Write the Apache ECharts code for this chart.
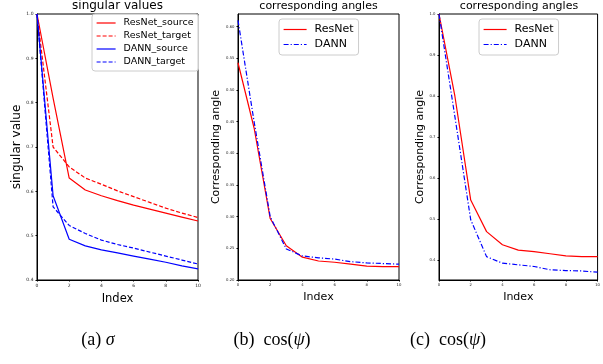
<!DOCTYPE html>
<html>
<head>
<meta charset="utf-8">
<script src="https://cdn.jsdelivr.net/npm/echarts@6/dist/echarts.min.js"></script>
<style>
  html, body { margin: 0; padding: 0; background: #fff; }
  #chart { width: 603px; height: 364px; }
</style>
</head>
<body>
<div id="chart"></div>
<script>
// index on the x axis (shared by all three panels)
const indices = [0, 1, 2, 3, 4, 5, 6, 7, 8, 9, 10]

// (a) singular values
const resnetSource = [1.0, 0.81, 0.63, 0.603, 0.59, 0.579, 0.569, 0.56, 0.551, 0.542, 0.533]
const resnetTarget = [1.0, 0.70, 0.655, 0.63, 0.616, 0.601, 0.588, 0.575, 0.562, 0.551, 0.541]
const dannSource = [1.0, 0.59, 0.492, 0.477, 0.468, 0.461, 0.454, 0.447, 0.44, 0.432, 0.425]
const dannTarget = [1.0, 0.565, 0.523, 0.505, 0.49, 0.48, 0.472, 0.463, 0.454, 0.445, 0.436]

// (b) corresponding angles
const angleResnetB = [0.543, 0.44, 0.297, 0.254, 0.236, 0.230, 0.228, 0.225, 0.222, 0.221, 0.221]
const angleDannB = [0.61, 0.45, 0.30, 0.249, 0.238, 0.235, 0.233, 0.229, 0.227, 0.226, 0.225]

// (c) corresponding angles
const angleResnetC = [1.0, 0.80, 0.546, 0.469, 0.437, 0.424, 0.420, 0.415, 0.41, 0.408, 0.408]
const angleDannC = [1.0, 0.75, 0.498, 0.408, 0.392, 0.388, 0.384, 0.376, 0.374, 0.373, 0.370]

// tick labels
const xTicks = [0, 2, 4, 6, 8, 10]
const yTicksA = [0.4, 0.5, 0.6, 0.7, 0.8, 0.9, 1.0]
const yTicksB = [0.20, 0.25, 0.30, 0.35, 0.40, 0.45, 0.50, 0.55, 0.60]
const yTicksC = [0.4, 0.5, 0.6, 0.7, 0.8, 0.9, 1.0]

const FONT = '"DejaVu Sans", sans-serif'
const SERIF = '"Liberation Serif", "DejaVu Serif", serif'
const RED = '#ff0000'
const BLUE = '#0000ff'
const DASH = [4, 2]
const DASHDOT = [5, 2, 1.2, 2]

const pairs = (ys) => indices.map((x, i) => [x, ys[i]])

const grids = [
  { left: 37, top: 14, width: 161, height: 266 },
  { left: 238, top: 14, width: 161, height: 266 },
  { left: 439, top: 14, width: 160, height: 266 },
].map((g) => ({ ...g, show: true, borderColor: '#000', borderWidth: 1, containLabel: false }))

function xAxis(gridIndex, tickSize, nameSize) {
  return {
    type: 'value',
    gridIndex,
    min: 0,
    max: 10,
    interval: 2,
    name: 'Index',
    nameLocation: 'middle',
    nameGap: 9,
    nameTextStyle: { fontSize: nameSize, color: '#000', fontFamily: FONT },
    axisLine: { lineStyle: { color: '#000', width: 1 } },
    axisTick: { show: true, length: 1.5, lineStyle: { color: '#000' }, customValues: xTicks },
    axisLabel: { fontSize: tickSize, color: '#222', margin: 3, fontFamily: FONT, customValues: xTicks },
    splitLine: { show: false },
  }
}

function yAxis(gridIndex, min, max, ticks, digits, name, gap, tickSize, nameSize) {
  return {
    type: 'value',
    gridIndex,
    min,
    max,
    name,
    nameLocation: 'middle',
    nameGap: gap,
    nameTextStyle: { fontSize: nameSize, color: '#000', fontFamily: FONT },
    axisLine: { show: true, lineStyle: { color: '#000', width: 1 } },
    axisTick: { show: true, length: 1.5, lineStyle: { color: '#000' }, customValues: ticks },
    axisLabel: {
      fontSize: tickSize,
      color: '#222',
      margin: 3.5,
      fontFamily: FONT,
      customValues: ticks,
      formatter: (v) => v.toFixed(digits),
    },
    splitLine: { show: false },
  }
}

function line(name, data, xi, color, dash) {
  return {
    type: 'line',
    name,
    xAxisIndex: xi,
    yAxisIndex: xi,
    data: pairs(data),
    symbol: 'none',
    clip: true,
    lineStyle: { color, width: 1.2, type: dash || 'solid' },
    itemStyle: { color },
    emphasis: { disabled: true },
  }
}

const legendBase = {
  orient: 'vertical',
  selectedMode: false,
  backgroundColor: 'rgba(255,255,255,0.8)',
  borderColor: '#cccccc',
  borderWidth: 1,
  borderRadius: 3,
  // hide the marker drawn in the middle of the line icon
  itemStyle: { opacity: 0 },
  lineStyle: { width: 1.2 },
}

const chart = echarts.init(document.getElementById('chart'), null, { renderer: 'canvas' })

chart.setOption({
  animation: false,
  backgroundColor: '#fff',
  title: [
    { text: 'singular values', left: 117.5, top: 0, textAlign: 'center', padding: 0,
      textStyle: { fontSize: 12, fontWeight: 'normal', color: '#000', fontFamily: FONT } },
    { text: 'corresponding angles', left: 318.5, top: 1, textAlign: 'center', padding: 0,
      textStyle: { fontSize: 11, fontWeight: 'normal', color: '#000', fontFamily: FONT } },
    { text: 'corresponding angles', left: 519, top: 1, textAlign: 'center', padding: 0,
      textStyle: { fontSize: 11, fontWeight: 'normal', color: '#000', fontFamily: FONT } },
    { text: '(a) {i|σ}', left: 98, top: 331, textAlign: 'center', padding: 0,
      textStyle: { fontSize: 18, fontWeight: 'normal', color: '#000', fontFamily: SERIF,
        rich: { i: { fontSize: 18, fontStyle: 'italic', fontFamily: SERIF } } } },
    { text: '(b)  cos({i|ψ})', left: 272, top: 331, textAlign: 'center', padding: 0,
      textStyle: { fontSize: 18, fontWeight: 'normal', color: '#000', fontFamily: SERIF,
        rich: { i: { fontSize: 18, fontStyle: 'italic', fontFamily: SERIF } } } },
    { text: '(c)  cos({i|ψ})', left: 448, top: 331, textAlign: 'center', padding: 0,
      textStyle: { fontSize: 18, fontWeight: 'normal', color: '#000', fontFamily: SERIF,
        rich: { i: { fontSize: 18, fontStyle: 'italic', fontFamily: SERIF } } } },
  ],
  legend: [
    { ...legendBase, left: 92, top: 14,
      data: ['ResNet_source', 'ResNet_target', 'DANN_source', 'DANN_target'],
      itemWidth: 19, itemHeight: 10, itemGap: 3, padding: [4, 5, 4, 4],
      textStyle: { fontSize: 9.5, color: '#000', fontFamily: FONT, padding: [0, 0, 0, 3] } },
    { ...legendBase, left: 279, top: 19,
      data: ['ResNet', 'DANN'],
      itemWidth: 23, itemHeight: 11, itemGap: 4, padding: [5, 5, 5, 4],
      textStyle: { fontSize: 11, color: '#000', fontFamily: FONT, padding: [0, 0, 0, 3] } },
    { ...legendBase, left: 479, top: 19,
      data: ['ResNet', 'DANN'],
      itemWidth: 23, itemHeight: 11, itemGap: 4, padding: [5, 5, 5, 4],
      textStyle: { fontSize: 11, color: '#000', fontFamily: FONT, padding: [0, 0, 0, 3] } },
  ],
  grid: grids,
  xAxis: [xAxis(0, 4.5, 11.5), xAxis(1, 3.8, 11), xAxis(2, 3.8, 11)],
  yAxis: [
    yAxis(0, 0.4, 1.0, yTicksA, 1, 'singular value', 13.5, 4.5, 12),
    yAxis(1, 0.2, 0.62, yTicksB, 2, 'Corresponding angle', 16, 3.8, 11),
    yAxis(2, 0.351, 1.0, yTicksC, 1, 'Corresponding angle', 13.5, 3.8, 11),
  ],
  series: [
    line('ResNet_source', resnetSource, 0, RED),
    line('ResNet_target', resnetTarget, 0, RED, DASH),
    line('DANN_source', dannSource, 0, BLUE),
    line('DANN_target', dannTarget, 0, BLUE, DASH),
    line('ResNet', angleResnetB, 1, RED),
    line('DANN', angleDannB, 1, BLUE, DASHDOT),
    line('ResNet', angleResnetC, 2, RED),
    line('DANN', angleDannC, 2, BLUE, DASHDOT),
  ],
})
</script>
</body>
</html>
